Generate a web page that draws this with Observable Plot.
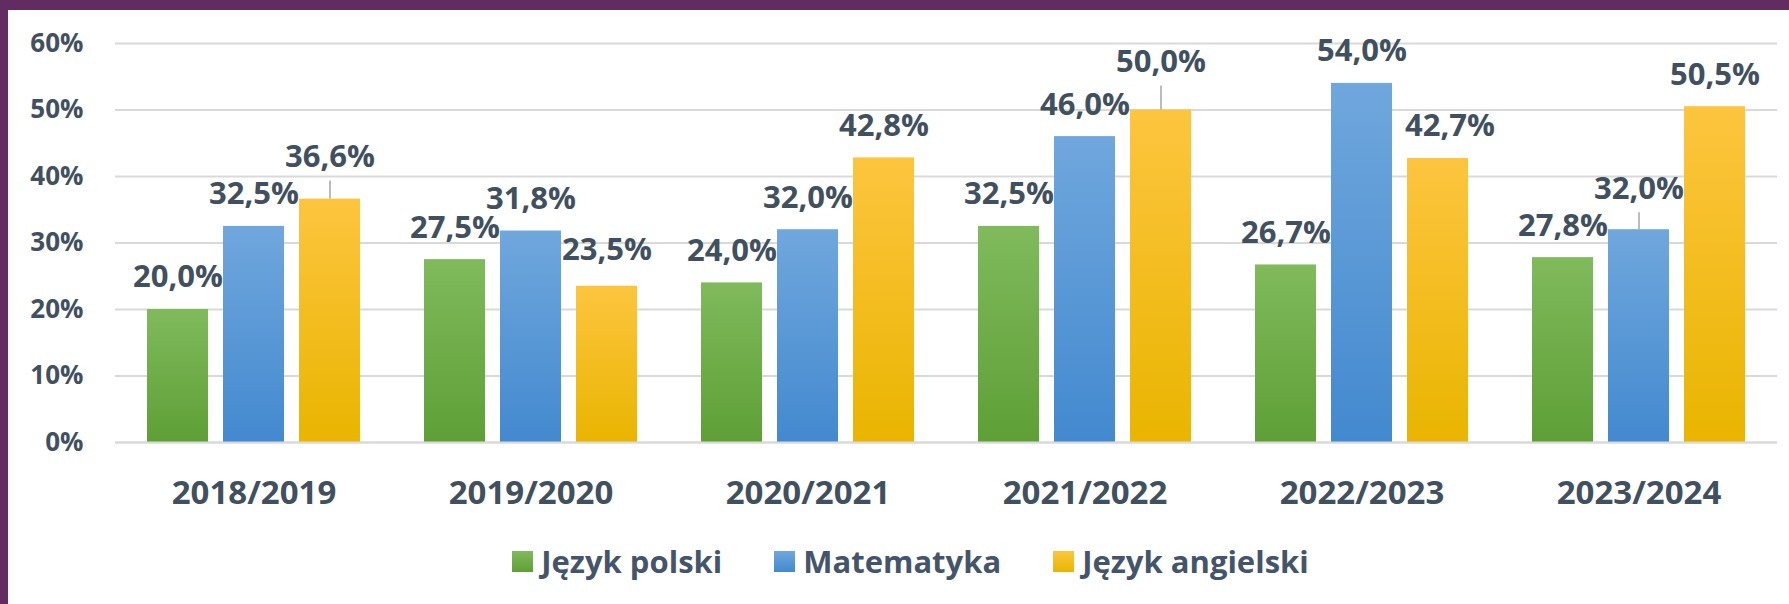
<!DOCTYPE html>
<html><head><meta charset="utf-8">
<script src="https://cdn.jsdelivr.net/npm/d3@7"></script>
<script src="https://cdn.jsdelivr.net/npm/@observablehq/plot@0.6"></script>
<style>
html,body{margin:0;padding:0;background:#fff;}
#frame{position:relative;width:1789px;height:604px;box-sizing:border-box;border-top:10px solid #622c63;border-left:8px solid #622c63;background:#fff;overflow:hidden;font-family:"Open Sans",sans-serif;}
#chart{position:absolute;left:0;top:0;}
#legend{position:absolute;left:24px;right:0;top:531px;height:40px;display:flex;justify-content:center;align-items:center;color:#44546a;font-weight:700;font-size:31px;}
.item{display:flex;align-items:center;margin:0 26px;}
.sw{width:21px;height:21px;margin-right:8px;}
</style>
</head><body>
<div id="frame"><div id="chart"></div><div id="legend"></div></div>
<script>
const years = ["2018/2019","2019/2020","2020/2021","2021/2022","2022/2023","2023/2024"];
const subjects = ["Język polski","Matematyka","Język angielski"];
const polski = [20.0,27.5,24.0,32.5,26.7,27.8];
const matematyka = [32.5,31.8,32.0,46.0,54.0,32.0];
const angielski = [36.6,23.5,42.8,50.0,42.7,50.5];
const yTicks = [0,10,20,30,40,50,60];

const series = [polski, matematyka, angielski];
const gradIds = ["gPl","gMat","gAng"];
const gradStops = [["#80ba5c","#5e9f36"],["#70a7dd","#4389cf"],["#fdc53f","#e9b500"]];

const rows = years.flatMap((yr,i)=>subjects.map((s,j)=>({year:yr, subject:s, value:series[j][i]})));
const fmt = v => v.toFixed(1).replace(".", ",") + "%";

// label placement tweaks (pixel offsets, as in the original's manual label layout)
const nudge = {
  "2018/2019|Język angielski": {dx:0, dy:-42, leader:true},
  "2019/2020|Język angielski": {dx:0, dy:-36},
  "2021/2022|Język angielski": {dx:0, dy:-48, leader:true},
  "2022/2023|Język angielski": {dx:12, dy:-32},
  "2023/2024|Matematyka": {dx:0, dy:-41, leader:true}
};
const W = 1781, H = 505, mT = 33, mB = 73, mL = 106, mR = 11;
const pxToData = (yTicks[yTicks.length-1]-yTicks[0]) / (H - mT - mB);

const groups = d3.groups(rows, d => {
  const n = nudge[d.year+"|"+d.subject] || {dx:0, dy:-32};
  return n.dx + "," + n.dy;
});
const textMarks = groups.map(([key, data]) => {
  const [dx, dy] = key.split(",").map(Number);
  return Plot.text(data, {fx:"year", x:"subject", y:"value", text:d=>fmt(d.value), dx, dy,
    fontSize:31, fontWeight:700, fill:"#41505f"});
});
const leaders = rows.filter(d => (nudge[d.year+"|"+d.subject]||{}).leader).map(d => {
  const n = nudge[d.year+"|"+d.subject];
  return {...d, y1:d.value, y2:d.value + (-n.dy - 24) * pxToData};
});

const chart = Plot.plot({
  width: W, height: H, marginTop: mT, marginBottom: mB, marginLeft: mL, marginRight: mR,
  style: {fontFamily: "'Open Sans', sans-serif", color: "#44546a", background: "transparent", overflow: "visible"},
  fx: {domain: years, padding: 0, label: null},
  x: {domain: subjects, paddingInner: 0.195, paddingOuter: 0.398, axis: null},
  y: {domain: [0, 60], label: null},
  marks: [
    Plot.ruleY(yTicks, {stroke: "#d9d9d9", strokeWidth: 2}),
    ...subjects.map((s,j) => Plot.barY(rows.filter(d=>d.subject===s), {fx:"year", x:"subject", y:"value", fill:`url(#${gradIds[j]})`})),
    Plot.ruleY([0], {stroke: "#d9d9d9", strokeWidth: 2}),
    Plot.ruleX(leaders, {fx:"year", x:"subject", y1:"y1", y2:"y2", stroke:"#a6a6a6", strokeWidth:1.5}),
    ...textMarks,
    Plot.axisY(yTicks, {tickSize: 0, tickPadding: 32, tickFormat: d => d + "%", fontSize: 26, fontWeight: 700, fill: "#41505f", label: null}),
    Plot.axisFx({anchor: "bottom", tickSize: 0, tickPadding: 38, fontSize: 33, fontWeight: 700, fill: "#41505f", label: null})
  ]
});

const svg = d3.select(chart);
const defs = svg.insert("defs", ":first-child");
gradIds.forEach((id,j) => {
  const g = defs.append("linearGradient").attr("id", id).attr("x1",0).attr("y1",0).attr("x2",0).attr("y2",1);
  g.append("stop").attr("offset","0%").attr("stop-color", gradStops[j][0]);
  g.append("stop").attr("offset","100%").attr("stop-color", gradStops[j][1]);
});
document.getElementById("chart").appendChild(chart);

const legend = d3.select("#legend");
subjects.forEach((s,j) => {
  const it = legend.append("div").attr("class","item");
  it.append("div").attr("class","sw").style("background", `linear-gradient(${gradStops[j][0]}, ${gradStops[j][1]})`);
  it.append("span").text(s);
});
</script>
</body></html>
